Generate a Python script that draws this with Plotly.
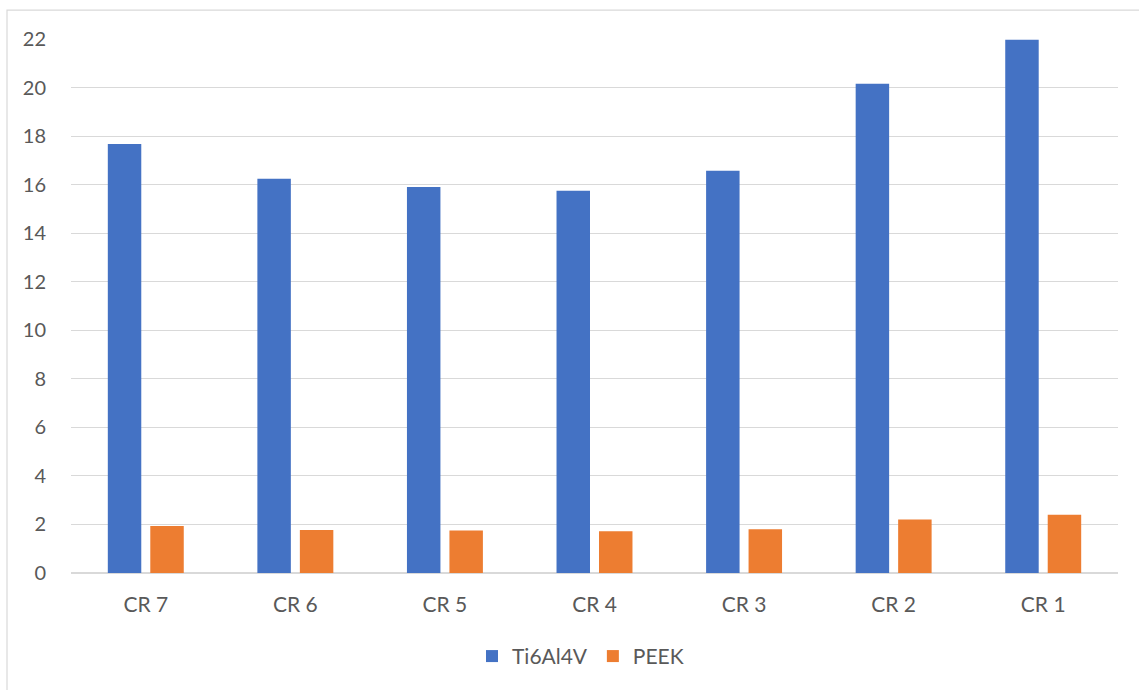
import plotly.graph_objects as go

# Category labels and series values
categories = ["CR 7", "CR 6", "CR 5", "CR 4", "CR 3", "CR 2", "CR 1"]
ti6al4v = [17.67, 16.24, 15.90, 15.75, 16.57, 20.16, 21.97]
peek = [1.94, 1.77, 1.75, 1.72, 1.80, 2.20, 2.40]
y_ticks = [0, 2, 4, 6, 8, 10, 12, 14, 16, 18, 20, 22]

BLUE = "#4472C4"
ORANGE = "#ED7D31"
TEXT = "#595959"
GRID = "#D9D9D9"
FONT = "Lato, 'Open Sans', sans-serif"

fig = go.Figure()
fig.add_trace(go.Bar(x=categories, y=ti6al4v, name="Ti6Al4V",
                     marker=dict(color=BLUE, line=dict(width=0))))
fig.add_trace(go.Bar(x=categories, y=peek, name="PEEK",
                     marker=dict(color=ORANGE, line=dict(width=0))))

# plot area geometry in pixels, used for the outer chart border
L, R, T, B = 71, 21, 39, 116.5
W = 1139 - L - R
H = 690 - T - B

fig.update_layout(
    width=1139, height=690,
    margin=dict(l=L, r=R, t=T, b=B),
    paper_bgcolor="white", plot_bgcolor="white",
    barmode="group", bargap=0.432, bargroupgap=0.212,
    font=dict(family=FONT, size=20, color=TEXT),
    showlegend=True,
    legend=dict(orientation="h", x=0.5 - 14 / W, xanchor="center",
                y=(573.5 - 657) / H, yanchor="middle",
                font=dict(size=21, color=TEXT), itemwidth=30,
                traceorder="normal"),
    xaxis=dict(showgrid=False, showline=False, zeroline=False,
               ticks="outside", ticklen=13, tickcolor="rgba(0,0,0,0)",
               tickfont=dict(size=21, color=TEXT)),
    yaxis=dict(range=[0, 22], tickvals=y_ticks, showgrid=True,
               gridcolor=GRID, gridwidth=1, zeroline=True,
               zerolinecolor=GRID, zerolinewidth=1.5, showline=False,
               ticks="outside", ticklen=20, tickcolor="rgba(0,0,0,0)",
               tickfont=dict(size=20, color=TEXT)),
    shapes=[dict(type="rect", xref="paper", yref="paper", layer="below",
                 x0=(7 - L) / W, x1=(1150 - L) / W,
                 y0=(573.5 - 700) / H, y1=(573.5 - 10) / H,
                 line=dict(color=GRID, width=1.2), fillcolor="rgba(0,0,0,0)")],
)

fig.write_html("out.html")
